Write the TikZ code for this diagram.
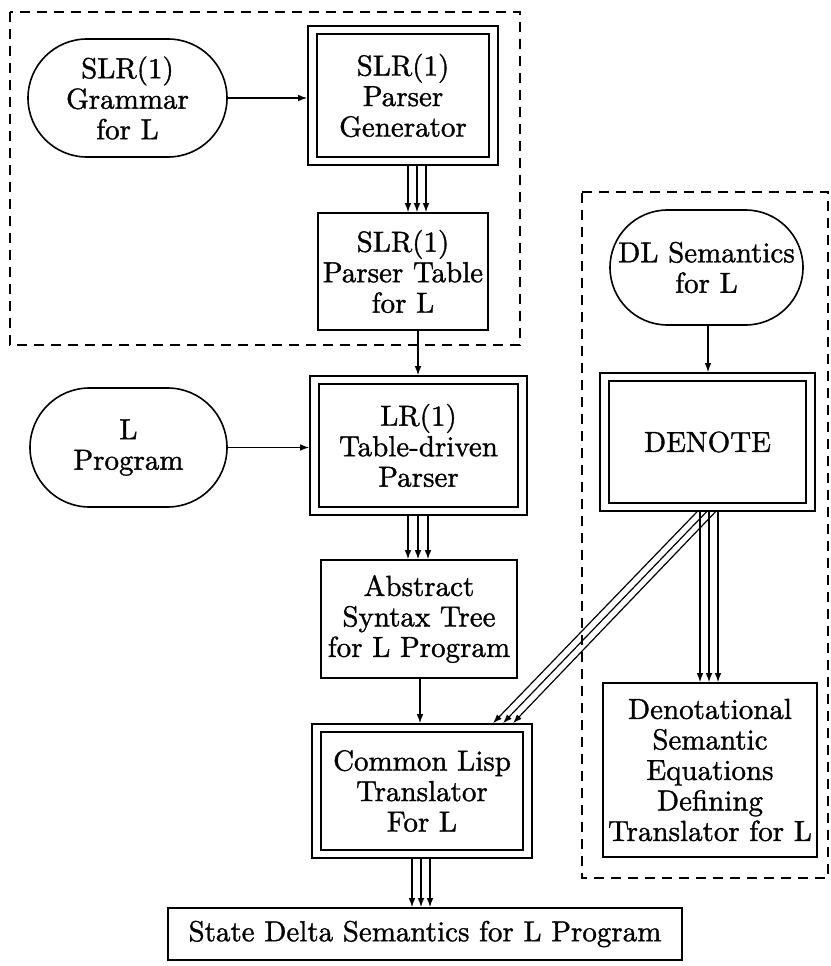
\documentclass[tikz,border=0pt]{standalone}
\usepackage{fontspec}
\newfontfamily\lmten{lmroman10-regular}[Extension=.otf, FakeBold=1.2]
\usetikzlibrary{shapes.misc,arrows.meta}
\begin{document}
\begin{tikzpicture}[x=1pt,y=-1pt,
  every node/.style={font=\lmten\fontsize{29}{30.5}\selectfont, align=center, inner sep=0pt},
  ln/.style={line width=1.6pt},
  stad/.style={draw, ln, rounded rectangle},
  box/.style={draw, ln},
  dbox/.style={draw, ln},
  inbox/.style={line width=1.8pt},
  arr/.style={line width=1.2pt, -{Latex[length=9pt,width=6.5pt]}},
  grp/.style={line width=1.5pt, dash pattern=on 10pt off 7pt}]
\useasboundingbox (0,0) rectangle (830,966);
% groups
\draw[grp] (10,12) rectangle (520,345);
\draw[grp] (582,192) -- (828,192) -- (828,878) -- (582,878) -- cycle;
% nodes
\node[stad, minimum width=199pt, minimum height=118pt] (gram) at (127.5,98) {SLR(1)\\Grammar\\for L};
\node[dbox, minimum width=190pt, minimum height=139pt] (gen) at (403,95.5) {SLR(1)\\Parser\\Generator};
\draw[inbox] ([shift={(10,9)}]gen.north west) rectangle ([shift={(-10,-9)}]gen.south east);
\node[box, minimum width=170pt, minimum height=117pt] (tab) at (403,271.5) {SLR(1)\\Parser Table\\for L};
\node[stad, minimum width=197pt, minimum height=119pt] (lprog) at (128.5,447.5) {L\\Program};
\node[dbox, minimum width=217pt, minimum height=139pt] (lr) at (418.5,445.5) {LR(1)\\Table-driven\\Parser};
\draw[inbox] ([shift={(10,9)}]lr.north west) rectangle ([shift={(-10,-9)}]lr.south east);
\node[box, minimum width=196pt, minimum height=118pt] (ast) at (419,619) {Abstract\\Syntax Tree\\for L Program};
\node[dbox, minimum width=220pt, minimum height=134pt] (cl) at (422,791) {Common Lisp\\Translator\\For L};
\draw[inbox] ([shift={(10,9)}]cl.north west) rectangle ([shift={(-10,-9)}]cl.south east);
\node[box, minimum width=514pt, minimum height=52pt] (sd) at (425,934) {State Delta Semantics for L Program};
\node[stad, minimum width=193pt, minimum height=115pt] (dl) at (706.5,267.5) {DL Semantics\\for L};
\node[dbox, minimum width=215pt, minimum height=138pt] (den) at (707.5,442) {DENOTE};
\draw[inbox] ([shift={(10,9)}]den.north west) rectangle ([shift={(-10,-9)}]den.south east);
\node[box, minimum width=214pt, minimum height=174pt] (deq) at (710,770) {Denotational\\Semantic\\Equations\\Defining\\Translator for L};
% connectors
\draw[arr] (gram.east) -- (gram.east -| gen.west);
\foreach \d in {5,14,23} \draw[arr] ([xshift=\d pt]gen.south) -- ([xshift=\d pt]gen.south |- tab.north);
\draw[arr] ([xshift=15pt]tab.south) -- ([xshift=15pt]tab.south |- lr.north);
\draw[arr] (lprog.east) -- (lprog.east -| lr.west);
\foreach \d in {-10.5,-0.5,9.5} \draw[arr] ([xshift=\d pt]lr.south) -- ([xshift=\d pt]lr.south |- ast.north);
\draw[arr] ([xshift=1pt]ast.south) -- ([xshift=1pt]ast.south |- cl.north);
\foreach \d in {-10,-1,8} \draw[arr] ([xshift=\d pt]cl.south) -- ([xshift=\d pt]cl.south |- sd.north);
\draw[arr] ([xshift=1.5pt]dl.south) -- ([xshift=1.5pt]dl.south |- den.north);
\foreach \d in {-7.5,1.5,10.5} \draw[arr] ([xshift=\d pt]den.south) -- ([xshift=\d pt]den.south |- deq.north);
\foreach \a/\b in {-10.5/71,-1/81,8/91} \draw[arr] ([xshift=\a pt]den.south) -- ([xshift=\b pt]cl.north);
\end{tikzpicture}
\end{document}
